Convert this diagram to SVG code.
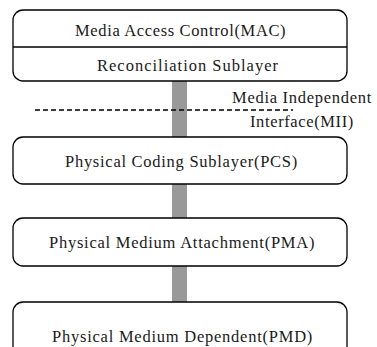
<svg xmlns="http://www.w3.org/2000/svg" width="377" height="347" viewBox="0 0 377 347">
<style>
.box{fill:#fff;stroke:#000;stroke-width:1.3}
.bar{fill:#999;stroke:none}
.dash{stroke:#000;stroke-width:1.6;stroke-dasharray:5,3;fill:none}
</style>
<rect width="377" height="347" fill="#fff"/>
<g id="connectors">
<rect class="bar" x="172" y="81" width="15" height="56"/>
<rect class="bar" x="172" y="184" width="15" height="34"/>
<rect class="bar" x="172" y="266" width="15" height="36"/>
<line class="dash" x1="35" y1="110" x2="293" y2="110"/>
</g>
<g font-family="Liberation Serif" font-size="16.5" fill="#1a1a1a">
<g id="mac">
<rect class="box" x="13" y="10" width="334" height="71" rx="10"/>
<line x1="13" y1="47" x2="347" y2="47" stroke="#000" stroke-width="1.3"/>
<text x="75" y="36" letter-spacing="0.64">Media Access Control(MAC)</text>
<text x="97" y="71" letter-spacing="1">Reconciliation Sublayer</text>
</g>
<g id="mii">
<text x="232" y="103" letter-spacing="0.72">Media Independent</text>
<text x="250" y="127" letter-spacing="0.62">Interface(MII)</text>
</g>
<g id="pcs">
<rect class="box" x="13" y="137" width="334" height="47" rx="10"/>
<text x="65" y="167" letter-spacing="0.73">Physical Coding Sublayer(PCS)</text>
</g>
<g id="pma">
<rect class="box" x="13" y="218" width="334" height="48" rx="10"/>
<text x="49" y="248" letter-spacing="0.75">Physical Medium Attachment(PMA)</text>
</g>
<g id="pmd">
<rect class="box" x="13" y="302" width="334" height="60" rx="10"/>
<text x="52" y="342" letter-spacing="0.76">Physical Medium Dependent(PMD)</text>
</g>
</g>
</svg>
